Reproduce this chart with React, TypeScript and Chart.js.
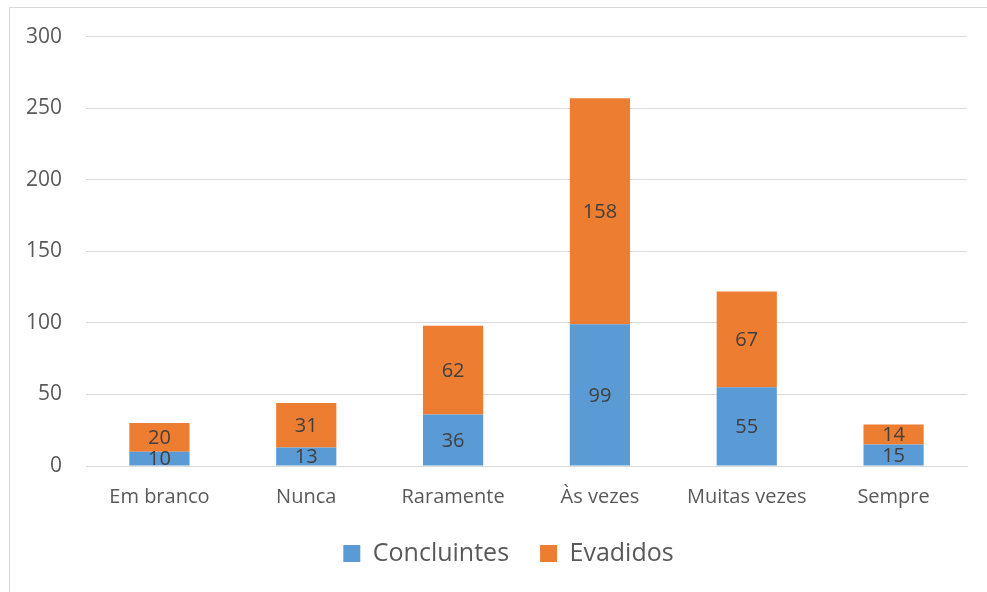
import React, { useEffect, useRef } from "react";
import { Chart, registerables } from "chart.js";

Chart.register(...registerables);

const categories = ["Em branco", "Nunca", "Raramente", "Às vezes", "Muitas vezes", "Sempre"];
const concluintes = [10, 13, 36, 99, 55, 15];
const evadidos = [20, 31, 62, 158, 67, 14];
const yTicks = [0, 50, 100, 150, 200, 250, 300];

const FONT = "'Open Sans', 'Liberation Sans', sans-serif";

const labelPlugin = {
  id: "barLabels",
  afterDatasetsDraw(chart: any) {
    const ctx = chart.ctx;
    ctx.save();
    ctx.font = `20px ${FONT}`;
    ctx.fillStyle = "#404040";
    ctx.textAlign = "center";
    ctx.textBaseline = "middle";
    chart.data.datasets.forEach((ds: any, i: number) => {
      const meta = chart.getDatasetMeta(i);
      meta.data.forEach((el: any, j: number) => {
        const y = (el.y + el.base) / 2;
        ctx.fillText(String(ds.data[j]), el.x, y + 1);
      });
    });
    ctx.restore();
  },
};

const legendShift = {
  id: "legendShift",
  afterLayout(chart: any) {
    if (chart.legend) {
      chart.legend.left += 25;
      chart.legend.right += 25;
    }
  },
};

export default function App() {
  const ref = useRef<HTMLCanvasElement>(null);
  useEffect(() => {
    if (!ref.current) return;
    const chart = new Chart(ref.current, {
      type: "bar",
      data: {
        labels: categories,
        datasets: [
          { label: "Concluintes", data: concluintes, backgroundColor: "#5B9BD5", categoryPercentage: 1, barPercentage: 0.41 },
          { label: "Evadidos", data: evadidos, backgroundColor: "#ED7D31", categoryPercentage: 1, barPercentage: 0.41 },
        ],
      },
      options: {
        responsive: false,
        animation: false,
        layout: { padding: { left: 0, right: 20, top: 36, bottom: 16 } },
        scales: {
          x: {
            stacked: true,
            grid: { display: false, drawTicks: false },
            border: { display: true, color: "#d9d9d9", width: 1 },
            ticks: { color: "#595959", font: { family: FONT, size: 20 }, padding: 19 },
            afterFit: (s: any) => { s.height = 44; },
          },
          y: {
            stacked: true,
            min: 0,
            max: 300,
            afterBuildTicks: (s: any) => { s.ticks = yTicks.map((v) => ({ value: v })); },
            grid: { color: "#d9d9d9", lineWidth: 1, drawTicks: false },
            border: { display: false },
            ticks: { color: "#595959", font: { family: FONT, size: 21 }, padding: 24 },
            afterFit: (s: any) => { s.width = 86; },
          },
        },
        plugins: {
          legend: {
            position: "bottom",
            labels: {
              color: "#595959",
              font: { family: FONT, size: 25 },
              boxWidth: 17,
              boxHeight: 17,
              padding: 31,
            },
          },
          tooltip: { enabled: false },
        },
      },
      plugins: [labelPlugin, legendShift],
    });
    return () => chart.destroy();
  }, []);
  return (
    <div style={{ position: "fixed", left: 0, top: 0, width: 987, height: 592, background: "#fff", overflow: "hidden" }}>
      <div style={{ position: "absolute", left: 9, top: 7, width: 1000, height: 620, border: "1px solid #d9d9d9", boxSizing: "border-box" }} />
      <canvas ref={ref} width={987} height={592} style={{ position: "absolute", left: 0, top: 0 }} />
    </div>
  );
}
